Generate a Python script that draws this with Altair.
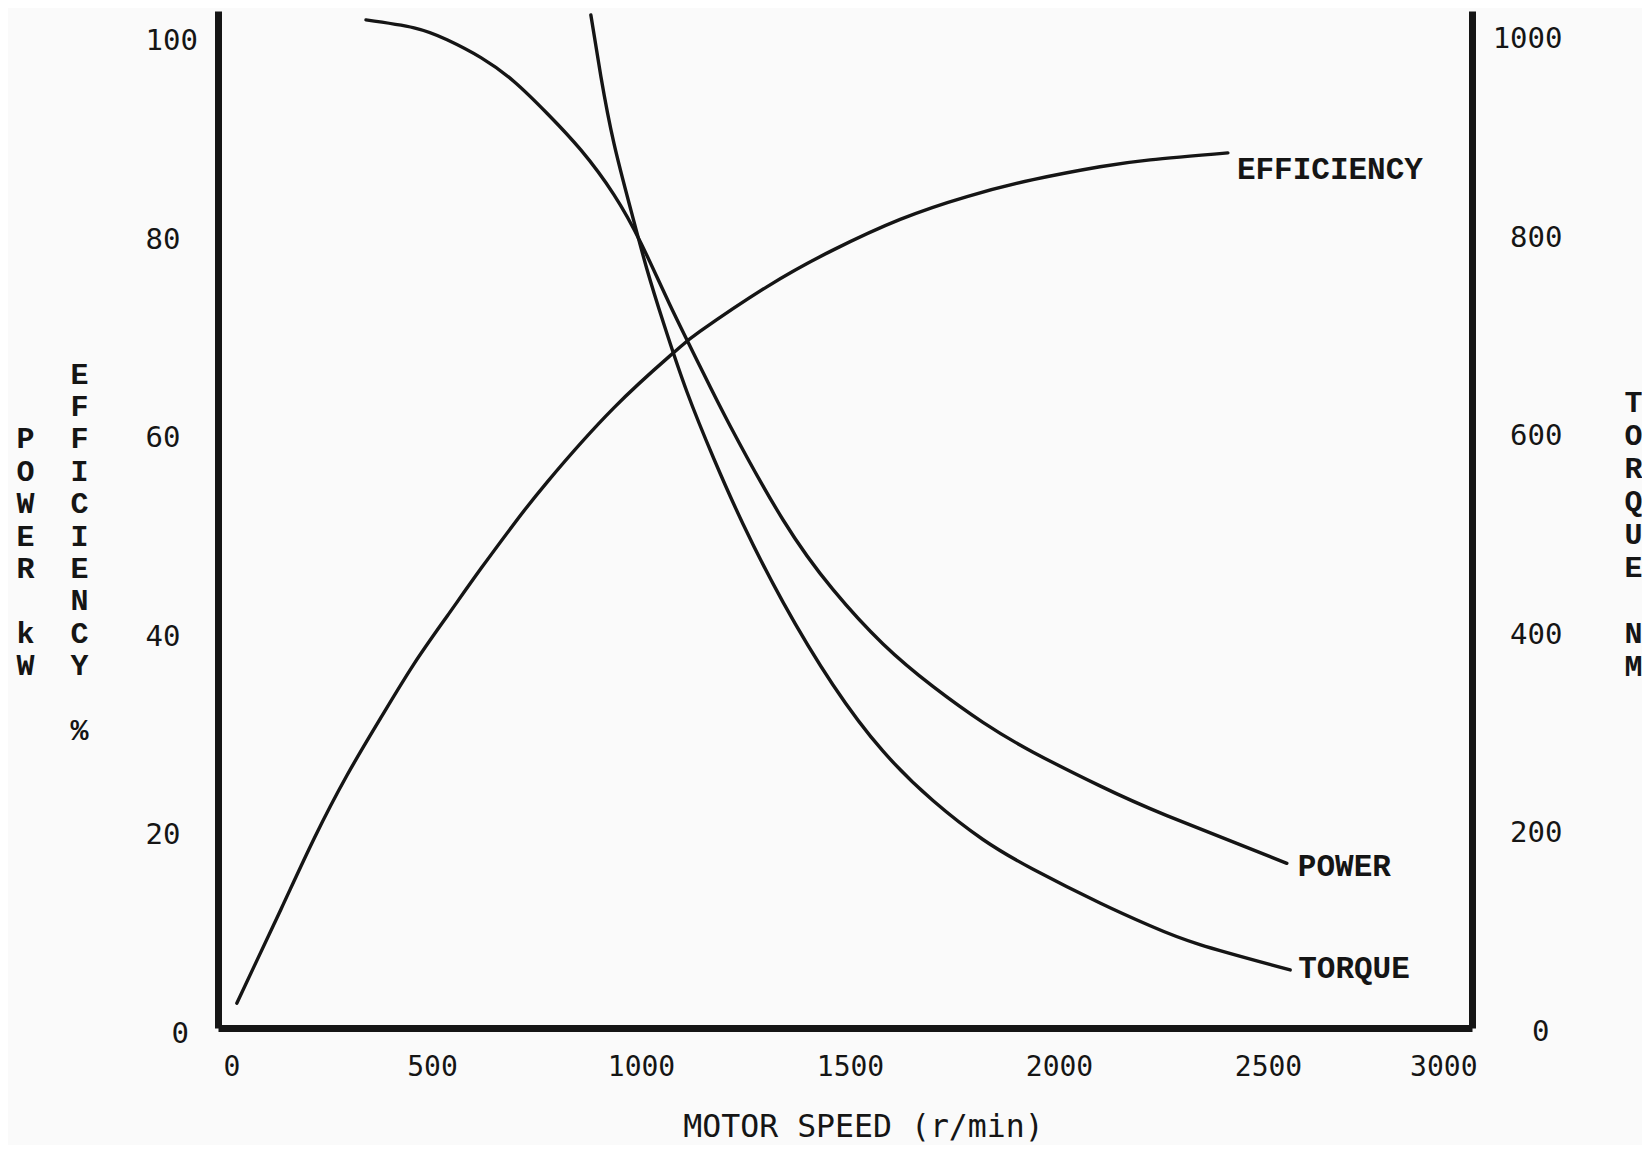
import altair as alt
import pandas as pd

# ---------------- data ----------------
x_ticks = [0, 500, 1000, 1500, 2000, 2500, 3000]
left_ticks = [0, 20, 40, 60, 80, 100]
right_ticks = [0, 200, 400, 600, 800, 1000]

eff_rpm = [45, 151, 230, 309, 390, 469, 548, 629, 708, 787, 947, 1091, 1153,
           1313, 1471, 1632, 1792, 1950, 2110, 2230, 2416]
eff_pct = [2.5, 12.0, 19.1, 25.5, 31.3, 36.7, 41.5, 46.3, 50.8, 55.0, 62.5, 68.1,
           70.2, 74.7, 78.4, 81.5, 83.8, 85.5, 86.8, 87.5, 88.2]

pow_rpm = [354, 469, 548, 629, 708, 787, 868, 947, 1012, 1081, 1153, 1225, 1352,
           1471, 1591, 1711, 1830, 1950, 2110, 2270, 2557]
pow_kw = [101.6, 100.8, 99.6, 97.8, 95.4, 92.2, 88.5, 84.0, 79.1, 72.9, 66.7, 60.7,
          51.2, 44.2, 38.7, 34.4, 30.8, 27.8, 24.4, 21.4, 16.6]

tq_rpm = [892, 916, 947, 988, 1026, 1067, 1122, 1187, 1256, 1352, 1471, 1591,
          1711, 1830, 1950, 2110, 2230, 2349, 2565]
tq_nm = [1021, 959, 892, 824, 765, 709, 641, 573, 508, 429, 346, 279, 229, 190,
         160, 126, 103, 84, 58.5]

series_names = ["EFFICIENCY", "POWER", "TORQUE"]
x_title = "MOTOR SPEED (r/min)"
ZW = "\u200b"   # keeps leading blanks / blank lines from being trimmed away
NB = "\u00a0"
left_title = [ZW + NB * 3 + "E", ZW + NB * 3 + "F", "P" + NB * 2 + "F",
              "O" + NB * 2 + "I", "W" + NB * 2 + "C", "E" + NB * 2 + "I",
              "R" + NB * 2 + "E", ZW + NB * 3 + "N", "k" + NB * 2 + "C",
              "W" + NB * 2 + "Y", ZW + NB * 4, ZW + NB * 3 + "%"]
right_title = ["T", "O", "R", "Q", "U", "E", ZW + NB, "N", "M"]

# ---------------- tables ----------------
left_df = pd.concat([
    pd.DataFrame({"rpm": eff_rpm, "value": eff_pct, "series": series_names[0]}),
    pd.DataFrame({"rpm": pow_rpm, "value": pow_kw, "series": series_names[1]}),
])
tq_df = pd.DataFrame({"rpm": tq_rpm, "value": tq_nm, "series": series_names[2]})

eff_end = pd.DataFrame({"rpm": [eff_rpm[-1]], "value": [eff_pct[-1]], "series": [series_names[0]]})
pow_end = pd.DataFrame({"rpm": [pow_rpm[-1]], "value": [pow_kw[-1]], "series": [series_names[1]]})
tq_end = pd.DataFrame({"rpm": [tq_rpm[-1]], "value": [tq_nm[-1]], "series": [series_names[2]]})

# ---------------- styles ----------------
INK = "#151515"
MONO = "Liberation Mono, Courier New, monospace"
SANSMONO = "DejaVu Sans Mono, monospace"

x_enc = alt.X(
    "rpm:Q",
    scale=alt.Scale(domain=[0, 3000], nice=False, zero=True),
    axis=alt.Axis(
        values=x_ticks, format="d", ticks=False, tickSize=0, grid=False,
        domainWidth=7, domainColor=INK,
        labelFont=SANSMONO, labelFontSize=28, labelColor=INK, labelPadding=25,
        labelOffset=5, labelBaseline="top",
        title=x_title, titleFont=SANSMONO, titleFontSize=31.5, titleFontWeight="normal",
        titleColor=INK, titleAlign="center", titleBaseline="alphabetic",
        titleX=645, titleY=108,
    ),
)

y_left = alt.Y(
    "value:Q",
    scale=alt.Scale(domain=[0, 102.5], nice=False, zero=True),
    axis=alt.Axis(
        orient="left", values=left_ticks, format="d", ticks=False, tickSize=0,
        grid=False, domainWidth=7, domainColor=INK,
        labelFont=SANSMONO, labelFontSize=29, labelColor=INK,
        labelAlign="left", labelBaseline="middle", labelOffset=5,
        labelPadding={"condition": {"test": "datum.value === 0", "value": 47}, "value": 73},
        title=left_title, titleAngle=0, titleAlign="left", titleBaseline="alphabetic",
        titleX=-202, titleY=372, titleLineHeight=32.4,
        titleFont=MONO, titleFontSize=30, titleFontWeight="bold", titleColor=INK,
    ),
)

y_right = alt.Y(
    "value:Q",
    scale=alt.Scale(domain=[0, 1025], nice=False, zero=True),
    axis=alt.Axis(
        orient="right", values=right_ticks, format="d", ticks=False, tickSize=0,
        grid=False, domainWidth=7, domainColor=INK,
        labelFont=SANSMONO, labelFontSize=29, labelColor=INK,
        labelAlign="right", labelBaseline="middle", labelOffset=3,
        labelPadding={"condition": {"test": "datum.value === 0", "value": 77}, "value": 90},
        title=right_title, titleAngle=0, titleAlign="center", titleBaseline="alphabetic",
        titleX=161, titleY=400, titleLineHeight=33,
        titleFont=MONO, titleFontSize=30, titleFontWeight="bold", titleColor=INK,
    ),
)

line_style = dict(color=INK, strokeWidth=3.4, interpolate="natural", strokeCap="round")
text_style = dict(align="left", baseline="middle", font=MONO, fontSize=31,
                  fontWeight="bold", color=INK)

left_lines = alt.Chart(left_df).mark_line(**line_style).encode(
    x=x_enc, y=y_left, detail="series:N")
eff_label = alt.Chart(eff_end).mark_text(dx=9, dy=17, **text_style).encode(
    x=x_enc, y=y_left, text="series:N")
pow_label = alt.Chart(pow_end).mark_text(dx=11, dy=4, **text_style).encode(
    x=x_enc, y=y_left, text="series:N")
left_layer = alt.layer(left_lines, eff_label, pow_label)

tq_line = alt.Chart(tq_df).mark_line(**line_style).encode(x=x_enc, y=y_right)
tq_label = alt.Chart(tq_end).mark_text(dx=8, dy=-1, **text_style).encode(
    x=x_enc, y=y_right, text="series:N")
right_layer = alt.layer(tq_line, tq_label)

chart = (
    alt.layer(left_layer, right_layer)
    .resolve_scale(y="independent")
    .properties(
        width=1254, height=1017,
        padding={"left": 210, "top": 3, "right": 170, "bottom": 117},
        autosize=alt.AutoSizeParams(type="none"),
        background="#fafafa",
    )
    .configure_view(stroke=None)
)

chart.save("out.html", embed_options={"renderer": "svg", "actions": False})
